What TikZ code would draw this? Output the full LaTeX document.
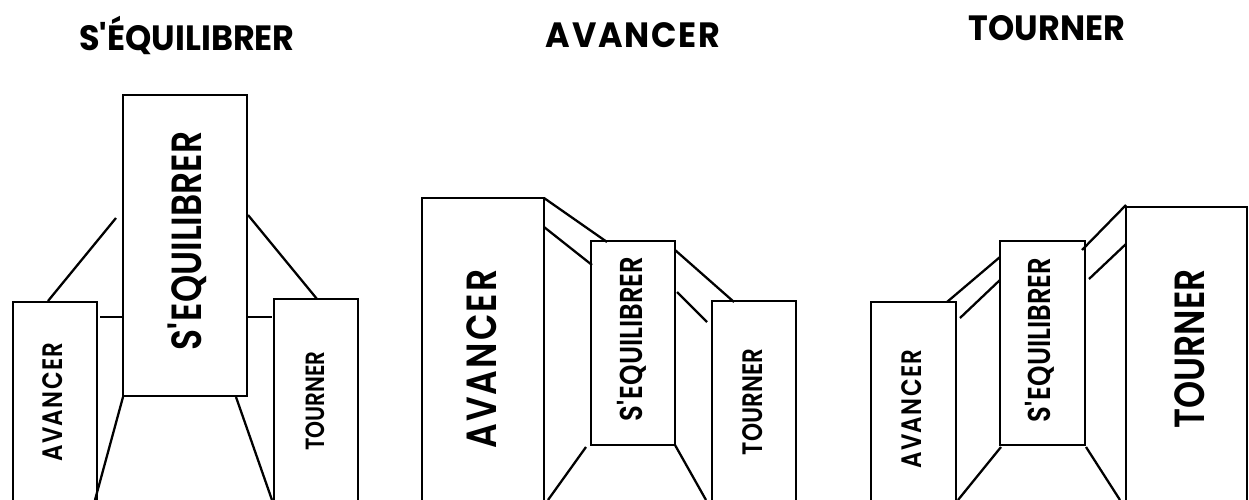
\documentclass[tikz,border=0pt]{standalone}
\usepackage{fontspec}
\setmainfont{Poppins}[FakeStretch=0.82, BoldFont={Poppins SemiBold}]
\newfontfamily\headfont{Poppins}[FakeStretch=0.95]
\usepackage{tikz}

\tikzset{
  box/.style={line width=1.5pt},
  link/.style={line width=1.3pt},
  word/.style={rotate=90, inner sep=0pt},
  wide/.style={execute at begin node=\addfontfeature{LetterSpace=5}},
  heading/.style={inner sep=0pt, font=\headfont\bfseries\fontsize{20}{20}\selectfont},
  big/.style={font=\bfseries\fontsize{24}{24}\selectfont},
  mid/.style={font=\bfseries\fontsize{18}{18}\selectfont},
  small/.style={font=\bfseries\fontsize{16}{16}\selectfont},
  tiny/.style={font=\bfseries\fontsize{15}{15}\selectfont}
}

\begin{document}
\begin{tikzpicture}[x=0.02cm, y=-0.02cm]
\useasboundingbox (0,0) rectangle (1249,500);
\node[heading] (t1) at (187,35) {S\textquotesingle ÉQUILIBRER};
\node[heading, wide] (t2) at (633,35) {AVANCER};
\node[heading] (t3) at (1047,28) {TOURNER};

\draw[box] (123,95) rectangle (247,396);
\draw[box] (13,302) rectangle (97,520);
\draw[box] (274,299) rectangle (358,520);
\node[word, big] (eq1) at (187,241) {S\textquotesingle EQUILIBRER};
\node[word, small, wide] (av1) at (53,402) {AVANCER};
\node[word, tiny] (to1) at (315,401) {TOURNER};
\draw[link] (116,218) -- (48,301);
\draw[link] (248,215) -- (317,299);
\draw[link] (100,317) -- (123,317);
\draw[link] (247,317) -- (272,317);
\draw[link] (123,397) -- (95,500);
\draw[link] (236,397) -- (272,500);

\draw[box] (422,198) rectangle (544,520);
\draw[box] (591,241) rectangle (675,445);
\draw[box] (712,301) rectangle (796,520);
\node[word, big, wide] (av2) at (482,359) {AVANCER};
\node[word, mid] (eq2) at (632,339) {S\textquotesingle EQUILIBRER};
\node[word, small] (to2) at (753,402) {TOURNER};
\draw[link] (544,198) -- (607,242);
\draw[link] (544,227) -- (592,265);
\draw[link] (675,250) -- (734,302);
\draw[link] (677,292) -- (707,322);
\draw[link] (586,447) -- (548,500);
\draw[link] (675,445) -- (706,500);

\draw[box] (871,302) rectangle (956,520);
\draw[box] (1000,241) rectangle (1085,445);
\draw[box] (1126,207) rectangle (1247,520);
\node[word, small, wide] (av3) at (912,409) {AVANCER};
\node[word, mid] (eq3) at (1040,340) {S\textquotesingle EQUILIBRER};
\node[word, big] (to3) at (1190,349) {TOURNER};
\draw[link] (947,302) -- (1000,257);
\draw[link] (960,318) -- (1000,280);
\draw[link] (1082,250) -- (1126,205);
\draw[link] (1089,279) -- (1126,244);
\draw[link] (1001,447) -- (958,500);
\draw[link] (1086,447) -- (1120,500);
\end{tikzpicture}
\end{document}
